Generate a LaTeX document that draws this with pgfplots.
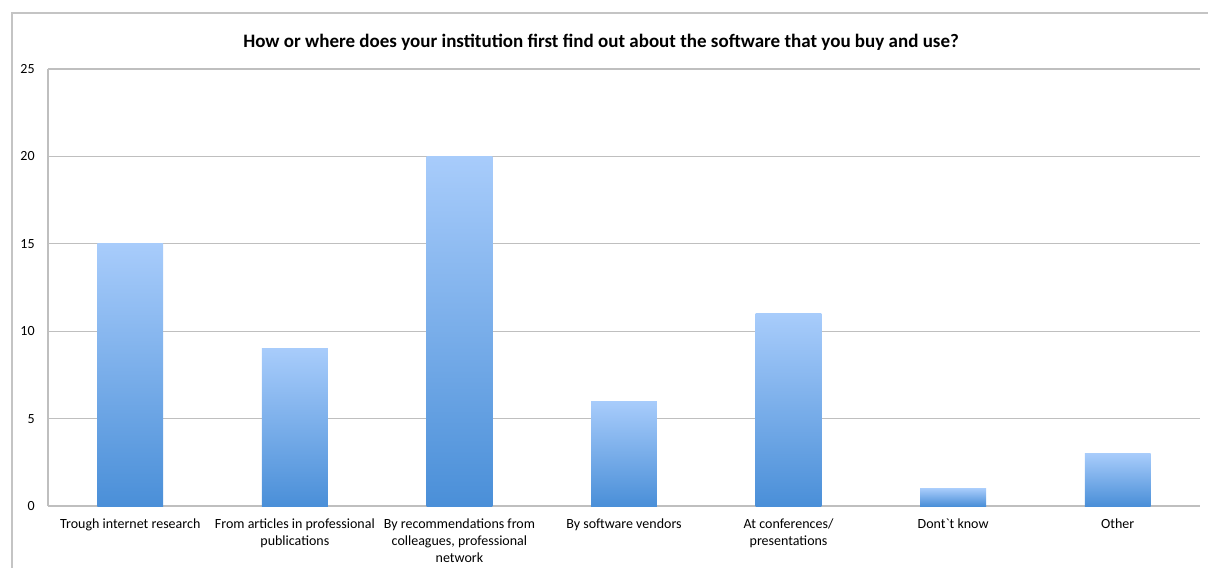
\documentclass[border=0pt]{standalone}
\usepackage{pgfplots}
\pgfplotsset{compat=1.18}
\usepackage{fontspec}
\setmainfont{Carlito}
\definecolor{gridc}{HTML}{BFBFBF}
\definecolor{framec}{HTML}{C4C4C4}
\definecolor{bartop}{HTML}{A8CCFB}
\definecolor{barbot}{HTML}{4A8FD8}
\begin{document}
\begin{tikzpicture}[x=0.5pt,y=-0.5pt]
\useasboundingbox (0,0) rectangle (1208,567);
\clip (0,0) rectangle (1208,567);
\draw[framec, line width=0.8pt] (12,600) -- (12,13) -- (1250,13);
\node[font=\bfseries\fontsize{9.5}{11}\selectfont, anchor=base] at (601,48) {How or where does your institution first find out about the software that you buy and use?};
\coordinate (A) at (48,506);
\begin{axis}[
  at={(A)}, anchor=south west,
  width=576pt, height=218.5pt, scale only axis,
  xmin=-0.5, xmax=6.5, ymin=0, ymax=25,
  ytick={0,5,10,15,20,25},
  xtick={0,1,2,3,4,5,6},
  xticklabels={{Trough internet research}, {From articles in professional\\publications}, {By recommendations from\\colleagues, professional\\network}, {By software vendors}, {At conferences/\\presentations}, {Dont\textasciigrave t know}, {Other}},
  axis x line*=bottom, axis y line*=left,
  x axis line style={-, draw=gridc, line width=0.6pt},
  y axis line style={-, draw=gridc, line width=0.6pt},
  ymajorgrids, grid style={draw=gridc, line width=0.6pt},
  major tick length=0pt,
  /pgf/number format/assume math mode=true,
  tick label style={font=\fontsize{7}{8.5}\selectfont},
  xticklabel style={inner sep=0pt, yshift=-6pt, align=center},
  yticklabel style={inner sep=0pt, xshift=-6.5pt},
  ybar, bar width=0.40, bar shift=0pt,
  every axis plot/.append style={draw=none, top color=bartop, bottom color=barbot},
]
\addplot coordinates {(0,15)};
\addplot coordinates {(1,9)};
\addplot coordinates {(2,20)};
\addplot coordinates {(3,6)};
\addplot coordinates {(4,11)};
\addplot coordinates {(5,1)};
\addplot coordinates {(6,3)};
\end{axis}
\end{tikzpicture}
\end{document}
